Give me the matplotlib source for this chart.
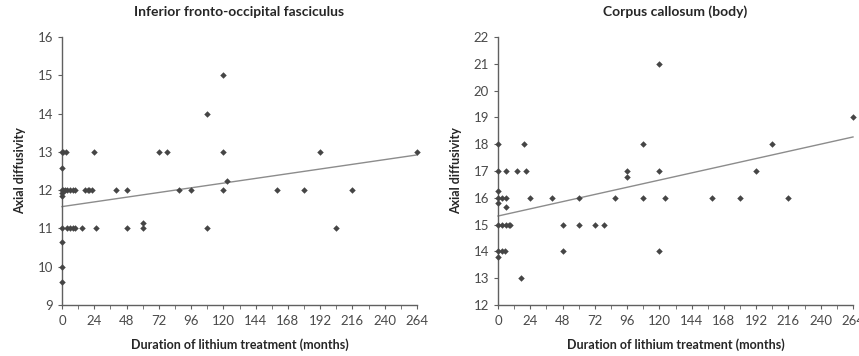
import matplotlib
matplotlib.use('Agg')
import matplotlib.pyplot as plt
from matplotlib.ticker import MultipleLocator

plt.rcParams['font.family'] = ['Lato', 'DejaVu Sans']

# Inferior fronto-occipital fasciculus: (months, axial diffusivity)
ifof_months = [0, 1, 3, 24, 72, 78, 120, 192, 264,
               0,
               0, 1, 2, 4, 6, 8, 10, 17, 19, 20, 22, 40, 48, 87, 96, 120, 160, 180, 216,
               0, 0,
               0, 4, 6, 8, 10, 15, 25, 48, 60, 108, 204,
               60, 0, 0, 0, 108, 120, 123]
ifof_ad = [13, 13, 13, 13, 13, 13, 13, 13, 13,
           12.57,
           12, 12, 12, 12, 12, 12, 12, 12, 12, 12, 12, 12, 12, 12, 12, 12, 12, 12, 12,
           11.92, 11.85,
           11, 11, 11, 11, 11, 11, 11, 11, 11, 11, 11,
           11.15, 10.64, 10.0, 9.6, 14, 15, 12.25]
ifof_trend_x = [0, 264]
ifof_trend_y = [11.57, 12.92]

# Corpus callosum (body)
cc_months = [120, 264,
             0, 19, 108, 204,
             0, 6, 14, 21, 96, 120, 192,
             96, 0,
             0, 3, 6, 24, 40, 60, 87, 108, 124, 159, 180, 216,
             0, 6,
             0, 3, 6, 8, 9, 48, 60, 72, 79,
             0, 3, 5, 48, 120,
             0, 17]
cc_ad = [21, 19,
         18, 18, 18, 18,
         17, 17, 17, 17, 17, 17, 17,
         16.78, 16.26,
         16, 16, 16, 16, 16, 16, 16, 16, 16, 16, 16, 16,
         15.8, 15.66,
         15, 15, 15, 15, 15, 15, 15, 15, 15,
         14, 14, 14, 14, 14,
         13.8, 13]
cc_trend_x = [0, 264]
cc_trend_y = [15.32, 18.27]

panels = [
    ('Inferior fronto-occipital fasciculus', ifof_months, ifof_ad,
     ifof_trend_x, ifof_trend_y, (9, 16)),
    ('Corpus callosum (body)', cc_months, cc_ad,
     cc_trend_x, cc_trend_y, (12, 22)),
]

fig = plt.figure(figsize=(8.59, 3.56), dpi=100)
lefts = [62 / 859, 498 / 859]
text_col = '#4a4a4a'

for left, (title, xs, ys, tx, ty, ylim) in zip(lefts, panels):
    ax = fig.add_axes([left, 51 / 356, 355 / 859, 268 / 356])
    ax.plot(tx, ty, color='#8c8c8c', lw=1.0, zorder=2)
    ax.plot(xs, ys, 'D', color='#454545', markersize=3.3, mec='none', zorder=3)
    ax.set_xlim(0, 264)
    ax.set_ylim(*ylim)
    ax.xaxis.set_major_locator(MultipleLocator(24))
    ax.xaxis.set_minor_locator(MultipleLocator(12))
    ax.yaxis.set_major_locator(MultipleLocator(1))
    for s in ['top', 'right']:
        ax.spines[s].set_visible(False)
    for s in ['left', 'bottom']:
        ax.spines[s].set_color('#606060')
        ax.spines[s].set_linewidth(1.0)
    ax.tick_params(axis='both', which='both', direction='out', length=3,
                   color='#606060', labelsize=9.5, labelcolor=text_col)
    ax.tick_params(axis='x', which='both', pad=4)
    ax.set_title(title, fontsize=10, fontweight='bold', color='#262626', pad=15)
    ax.set_xlabel('Duration of lithium treatment (months)', fontsize=9,
                  fontweight='bold', color='#262626', labelpad=8)
    ax.set_ylabel('Axial diffusivity', fontsize=9, fontweight='bold',
                  color='#262626', labelpad=8)
    for line in ax.lines:
        line.set_clip_on(False)

fig.savefig('out.png', dpi=100)
